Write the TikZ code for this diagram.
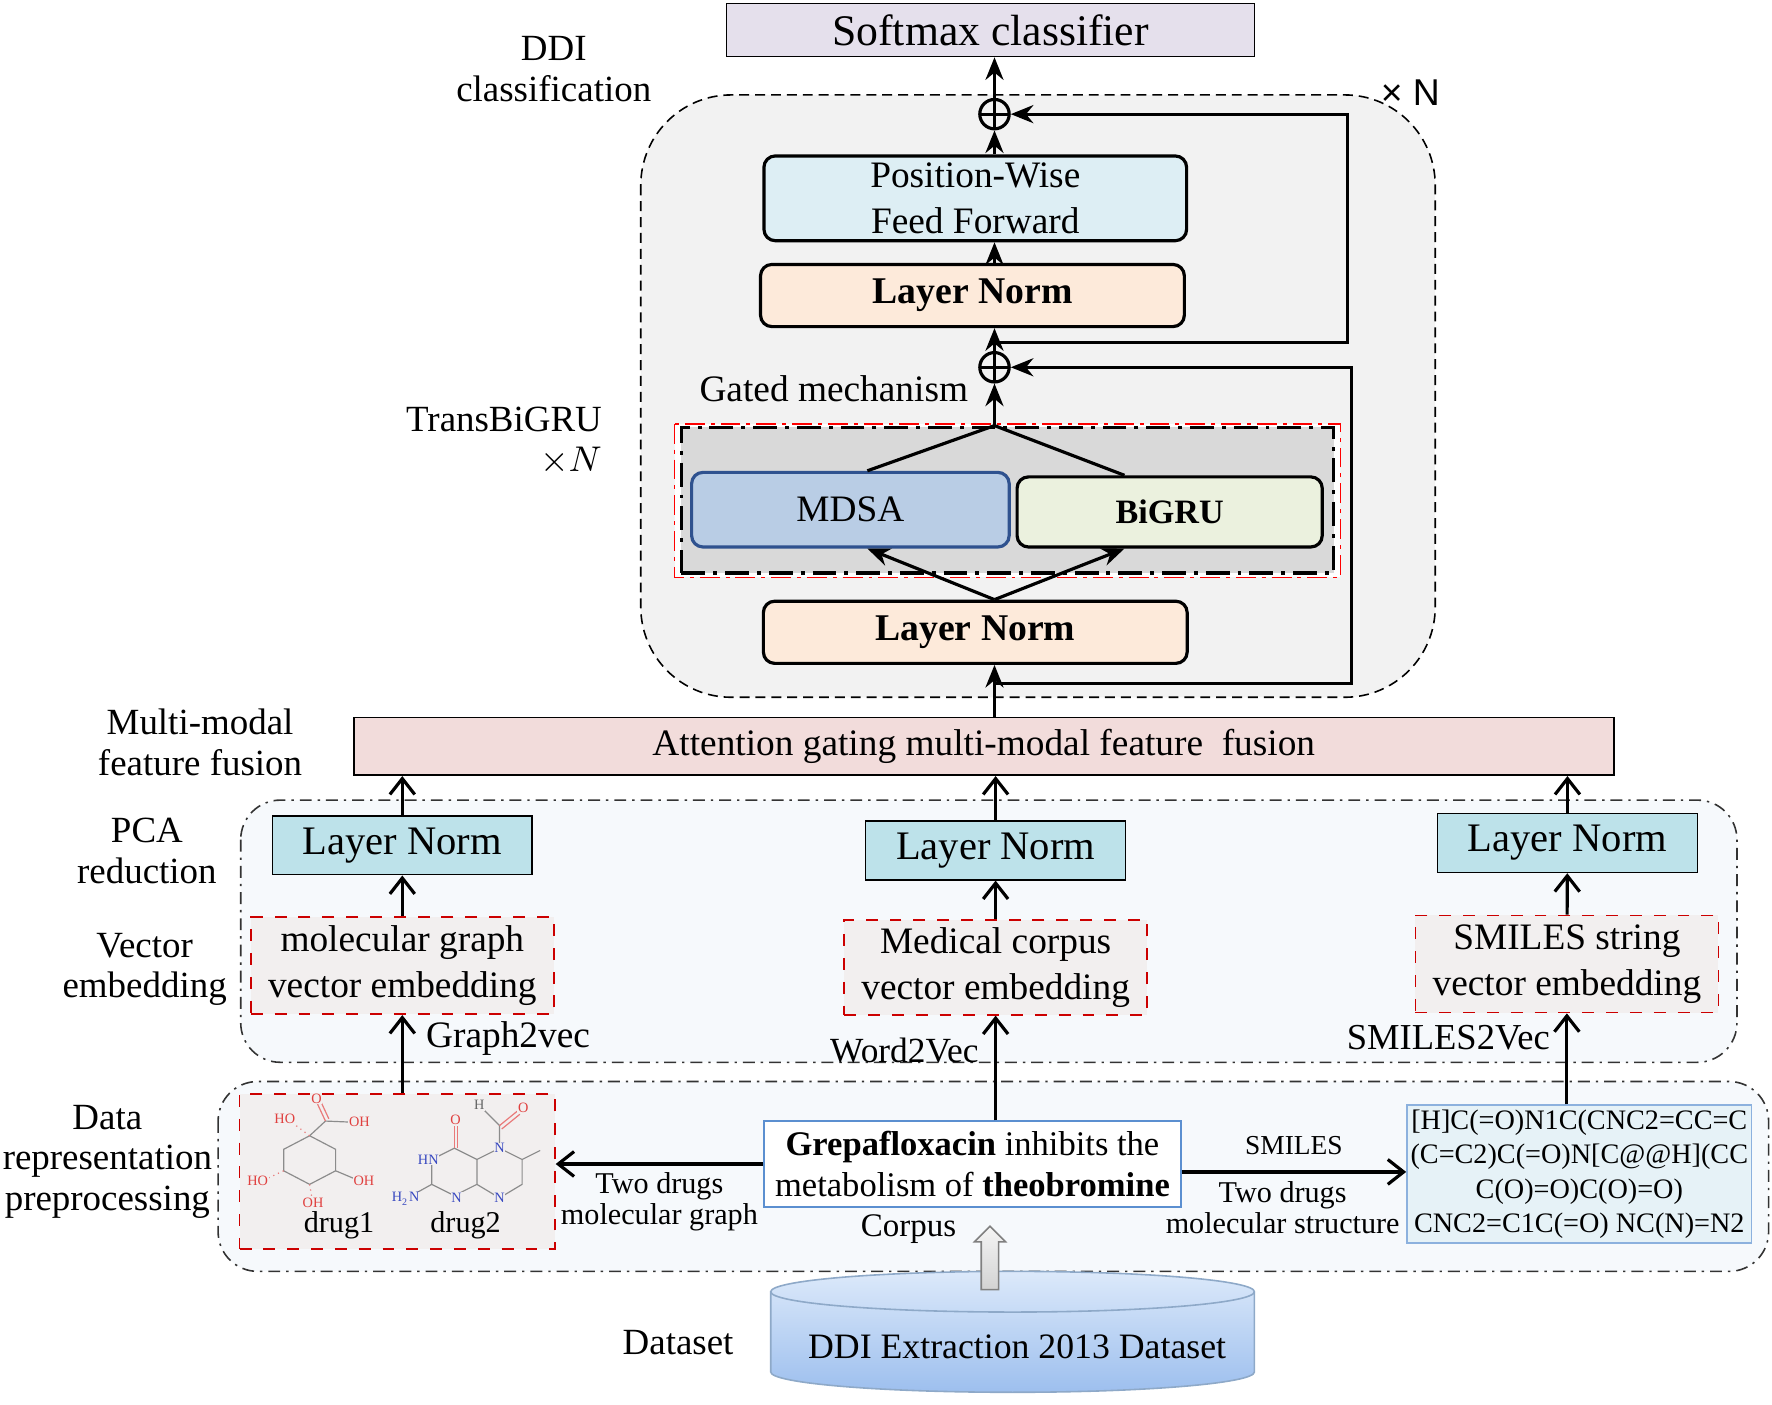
\documentclass[tikz,border=0pt]{standalone}
\usepackage{fontspec}
\setmainfont{Liberation Serif}
\newfontfamily\sansfont{Liberation Sans}
\usetikzlibrary{arrows.meta,shapes.arrows,positioning}

\definecolor{softmaxfill}{HTML}{E5E0EC}
\definecolor{blockfill}{HTML}{F2F2F2}
\definecolor{fffill}{HTML}{DDEEF4}
\definecolor{normfill}{HTML}{FDEADA}
\definecolor{mdsafill}{HTML}{B9CDE5}
\definecolor{mdsaedge}{HTML}{2F528F}
\definecolor{grufill}{HTML}{EBF1DE}
\definecolor{gatefill}{HTML}{D9D9D9}
\definecolor{fusionfill}{HTML}{F2DCDB}
\definecolor{regionfill}{HTML}{F6F9FC}
\definecolor{pcafill}{HTML}{BDE2EA}
\definecolor{embfill}{HTML}{F2EFEF}
\definecolor{corpusedge}{HTML}{5B8FD0}
\definecolor{smilesfill}{HTML}{E6F2F7}
\definecolor{cyltop}{HTML}{DCE9FA}
\definecolor{cylbot}{HTML}{9DBFEE}
\definecolor{cyledge}{HTML}{8EA9C8}
\definecolor{molred}{HTML}{E0403F}
\definecolor{molblue}{HTML}{3848C0}

\begin{document}
\begin{tikzpicture}[x=0.1mm,y=-0.1mm,
    every node/.style={font=\fontsize{9.4}{11.6}\selectfont},
    box/.style={draw, inner sep=0pt, align=center},
    topbox/.style={box, thick, rounded corners=1mm},
    lnorm/.style={topbox, fill=normfill, font=\fontsize{9.5}{11.6}\selectfont\bfseries, minimum width=37.5mm, minimum height=5.5mm},
    pcanorm/.style={box, fill=pcafill, font=\fontsize{10.2}{12}\selectfont, minimum width=23mm, minimum height=5.2mm},
    emb/.style={box, draw=red!80!black, dashed, fill=embfill, minimum width=26.8mm, minimum height=8.6mm},
    oplus/.style={circle, draw, thick, minimum size=2.6mm, inner sep=0pt,
      path picture={\draw (path picture bounding box.north) -- (path picture bounding box.south)
        (path picture bounding box.west) -- (path picture bounding box.east);}},
    region/.style={draw=black!80, fill=regionfill, rounded corners=3.5mm, dash pattern=on 3pt off 1.5pt on 0.6pt off 1.5pt},
    arr/.style={-{Stealth[length=2mm,width=1.6mm]}, thick},
    barb/.style={-{Straight Barb[length=1.4mm,width=2.2mm]}, thick},
    side/.style={align=center, font=\fontsize{9.3}{10.2}\selectfont},
    smalltxt/.style={align=center, inner sep=0.5pt, font=\fontsize{7.6}{6.8}\selectfont},
    mol/.style={draw=black!45, line width=0.3pt},
    atom/.style={inner sep=0.2pt, fill=embfill, font=\fontsize{3.6}{4}\selectfont}
  ]
  \useasboundingbox (0,0) rectangle (1568,1243);

  % transformer block
  \draw[fill=blockfill, rounded corners=8mm, dash pattern=on 2.5pt off 1.5pt] (567,84) rectangle (1270,617);
  \node[font=\sansfont\fontsize{9.4}{11}\selectfont] (times) at (1248,82) {× N};

  \node[box, fill=softmaxfill, font=\fontsize{11}{13}\selectfont, minimum width=46.7mm, minimum height=4.7mm] (softmax) at (876.5,26.5) {Softmax classifier};
  \node[oplus] (add1) at (880,101) {};
  \node[topbox, fill=fffill, minimum width=37.4mm, minimum height=7.5mm] (ff) at (863,175.5) {Position-Wise\\Feed Forward};
  \node[lnorm] (lnt) at (860.5,261.5) {Layer Norm};
  \node[oplus] (add2) at (880,325) {};
  \node[anchor=east] (gated) at (869,344) {Gated mechanism};

  \draw[draw=red, fill=white, dash pattern=on 5pt off 1.5pt on 1pt off 1.5pt] (597,375) rectangle (1186,511);
  \node[box, thick, fill=gatefill, dash pattern=on 6pt off 2pt on 1pt off 2pt, minimum width=57.7mm, minimum height=12.9mm] (gate) at (891.5,442.5) {};
  \coordinate (apex) at (gate.north -| add2);
  \node[box, thick, rounded corners=1mm, draw=mdsaedge, fill=mdsafill, minimum width=28.1mm, minimum height=6.6mm] (mdsa) at (752.5,451) {MDSA};
  \node[topbox, fill=grufill, font=\fontsize{8.6}{10}\selectfont\bfseries, minimum width=27mm, minimum height=6.2mm] (bigru) at (1035,453) {BiGRU};
  \draw[thick] ([xshift=1.5mm]mdsa.north) -- (apex) -- ([xshift=-4mm]bigru.north);

  \node[lnorm] (lnb) at (863,559.5) {Layer Norm};
  \coordinate (split) at (lnb.north -| add2);
  \draw[arr] (split) -- ([xshift=1.5mm]mdsa.south);
  \draw[arr] (split) -- ([xshift=-4mm]bigru.south);

  \draw[arr] (add1.north) -- (add1.north |- softmax.south);
  \draw[arr] (ff.north -| add1) -- (add1.south);
  \draw[arr] (lnt.north -| add1) -- (ff.south -| add1);
  \draw[arr] (add2.north) -- (lnt.south -| add2);
  \draw[arr] (gate.north -| add2) -- (add2.south);
  \coordinate (res1) at (880,303);
  \coordinate (res2) at (880,605);
  \draw[arr] (res1) -- ++(312,0) |- (add1.east);
  \draw[arr] (res2) -- ++(316,0) |- (add2.east);

  % fusion
  \node[box, fill=fusionfill, minimum width=111.5mm, minimum height=5.1mm] (fusion) at (870.5,660.5) {Attention gating multi-modal feature \ fusion};
  \draw[arr] (fusion.north -| add1) -- (lnb.south -| add1);

  % embedding region
  \draw[region] (213,708) rectangle (1537,940);
  \node[pcanorm] (ln1) at (356,748) {Layer Norm};
  \node[pcanorm] (ln2) at (881,752.5) {Layer Norm};
  \node[pcanorm] (ln3) at (1387,746) {Layer Norm};
  \node[emb] (emb1) at (356,854.5) {molecular graph\\vector embedding};
  \node[emb, minimum height=8.4mm] (emb2) at (881,856) {Medical corpus\\vector embedding};
  \node[emb] (emb3) at (1386.5,853) {SMILES string\\vector embedding};
  \foreach \i in {1,2,3} {
    \draw[barb] (emb\i) -- (ln\i);
    \draw[barb] (ln\i.north) -- (ln\i.north |- fusion.south);
  }

  % data region
  \draw[region] (193,957) rectangle (1565,1125);
  \node[box, draw=red!80!black, dashed, fill=embfill, minimum width=27.9mm, minimum height=13.7mm] (drugs) at (351.5,1036.5) {};
  \node[box, draw=corpusedge, fill=white, font=\fontsize{8.7}{10.2}\selectfont, minimum width=36.9mm, minimum height=7.6mm] (corpus) at (860.5,1030) {\textbf{Grepafloxacin} inhibits the\\metabolism of \textbf{theobromine}};
  \node[box, draw=corpusedge!70, fill=smilesfill, font=\fontsize{7.1}{8.6}\selectfont, minimum width=30.5mm, minimum height=12.2mm] (smiles) at (1397.5,1039) {[H]C(=O)N1C(CNC2=CC=C\\(C=C2)C(=O)N[C@@H](CC\\C(O)=O)C(O)=O)\\CNC2=C1C(=O) NC(N)=N2};

  \draw[barb] (corpus.west) -- node[smalltxt, below=0.4mm] {Two drugs\\molecular graph} (drugs.east |- corpus.west);
  \draw[barb] ([yshift=-0.7mm]corpus.east) -- node[smalltxt, above=1.2mm, font=\fontsize{6.9}{8}\selectfont] {SMILES} node[smalltxt, below=0.5mm, xshift=-1mm] {Two drugs\\molecular structure} ([yshift=-0.7mm]corpus.east -| smiles.west);
  \draw[barb] (drugs.north -| emb1) -- node[pos=0.7, right=0.8mm] {Graph2vec} (emb1.south);
  \draw[barb] (corpus.north -| emb2) -- node[pos=0.67, left=0.2mm, font=\fontsize{8.9}{10}\selectfont] {Word2Vec} (emb2.south);
  \draw[barb] (smiles.north -| emb3) -- node[pos=0.73, left=0.2mm, font=\fontsize{9.2}{10}\selectfont] {SMILES2Vec} (emb3.south);

  % drug1
  \draw[mol] (274,1005) -- (297,1017) -- (297,1036) -- (274,1048) -- (251,1036) -- (251,1017) -- cycle;
  \draw[mol] (274,1005) -- (288,992) -- (312,993);
  \draw[mol, draw=molred!70] (288,992) -- (281,977) (291,990) -- (284,975);
  \draw[mol, draw=molred!70, densely dotted] (274,1005) -- (258,993) (251,1036) -- (234,1044) (274,1048) -- (276,1060);
  \draw[mol] (297,1036) -- (316,1044);
  \node[atom, text=molred] (ho1) at (252,990) {HO};
  \node[atom, text=molred] (o1) at (280,972) {O};
  \node[atom, text=molred] (oh1) at (318,993) {OH};
  \node[atom, text=molred] (ho2) at (228,1045) {HO};
  \node[atom, text=molred] (oh2) at (322,1045) {OH};
  \node[atom, text=molred] (oh3) at (277,1064) {OH};
  % drug2
  \draw[mol] (402,1016) -- (422,1026) -- (422,1048) -- (402,1058) -- (382,1048) -- (382,1026) -- cycle;
  \draw[mol] (422,1026) -- (442,1016) -- (462,1026) -- (462,1048) -- (442,1060) -- (422,1048);
  \draw[mol] (462,1026) -- (478,1018) (382,1048) -- (364,1058);
  \draw[mol, draw=molred!70] (402,1016) -- (402,996) (405,1016) -- (405,996);
  \draw[mol] (442,1016) -- (442,996) -- (428,982);
  \draw[mol, draw=molred!70] (442,996) -- (458,983) (444,999) -- (460,986);
  \node[atom, text=molred] (o2) at (403,991) {O};
  \node[atom, text=molblue] (hn) at (379,1026) {HN};
  \node[atom, text=molblue] (n1) at (404,1060) {N};
  \node[atom, text=molblue] (h2n) at (359,1061) {H\textsubscript{2}N};
  \node[atom, text=molblue] (n2) at (442,1016) {N};
  \node[atom, text=molblue] (n3) at (442,1060) {N};
  \node[atom, text=black!60] (h1) at (424,978) {H};
  \node[atom, text=molred] (o3) at (463,980) {O};
  \node[font=\fontsize{7.6}{9}\selectfont] (drug1) at (300,1084) {drug1};
  \node[font=\fontsize{7.6}{9}\selectfont] (drug2) at (412,1084) {drug2};

  % dataset
  \path[top color=cyltop, bottom color=cylbot, draw=cyledge] (682,1143) -- (682,1214) arc[start angle=180, end angle=360, x radius=21.4mm, y radius=1.8mm] -- (1110,1143) arc[start angle=0, end angle=180, x radius=21.4mm, y radius=1.8mm] -- cycle;
  \draw[cyledge] (682,1143) arc[start angle=180, end angle=360, x radius=21.4mm, y radius=1.8mm];
  \node[font=\fontsize{9}{11}\selectfont] (dataset) at (900,1192) {DDI Extraction 2013 Dataset};
  \node[single arrow, draw=gray, top color=gray!8, bottom color=gray!35, rotate=90, minimum height=5.6mm, inner sep=0.7mm, single arrow head extend=0.6mm] (bigarrow) at (876,1117) {};
  \node[font=\fontsize{8.3}{10}\selectfont] (corpuslbl) at (804,1088) {Corpus};

  % side labels
  \node[side] (ddi) at (490,61) {DDI\\classification};
  \node[side, align=right, anchor=east] (trans) at (545,390) {TransBiGRU\\$\times N$};
  \node[side] (mmff) at (177,657) {Multi-modal\\feature fusion};
  \node[side] (pca) at (130,753) {PCA\\reduction};
  \node[side] (vec) at (128,858) {Vector\\embedding};
  \node[side] (data) at (95,1028) {Data\\representation\\preprocessing};
  \node[side] (datasetlbl) at (600,1188) {Dataset};
\end{tikzpicture}
\end{document}
